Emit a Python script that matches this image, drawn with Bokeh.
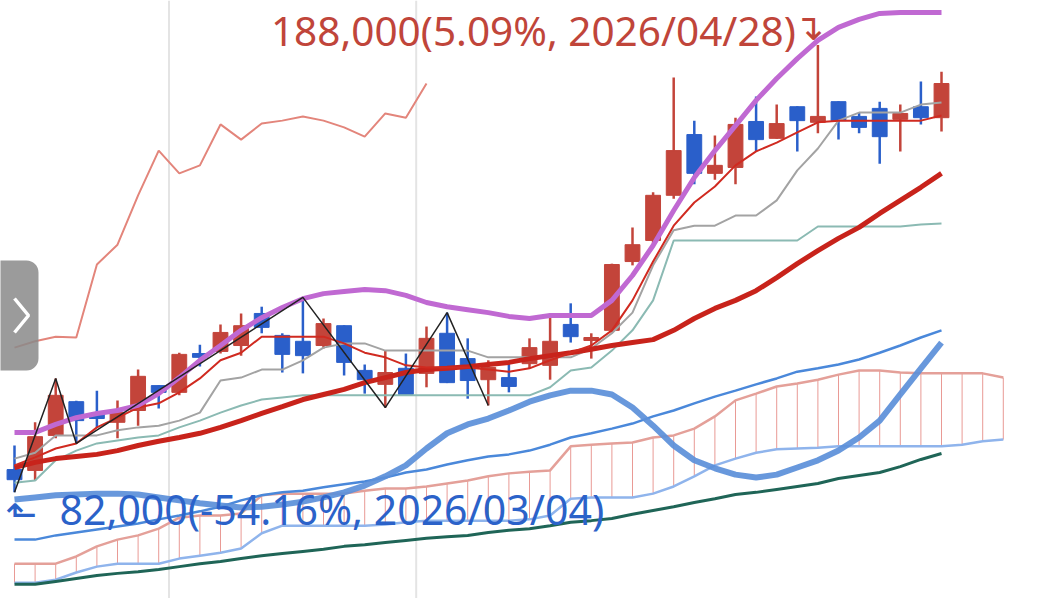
from bokeh.plotting import figure
from bokeh.models import Range1d, Span, BoxAnnotation, ColumnDataSource
from bokeh.embed import file_html
from bokeh.resources import INLINE
from bokeh.core.properties import value

# ---------------- data (won) ----------------
dates = ["03/04", "03/05", "03/06", "03/09", "03/10", "03/11", "03/12", "03/13", "03/16", "03/17",
         "03/18", "03/19", "03/20", "03/23", "03/24", "03/25", "03/26", "03/27", "03/30", "03/31",
         "04/01", "04/02", "04/03", "04/06", "04/07", "04/08", "04/09", "04/10", "04/13", "04/14",
         "04/15", "04/16", "04/17", "04/20", "04/21", "04/22", "04/23", "04/24", "04/27", "04/28",
         "04/29", "04/30", "05/04", "05/06", "05/07", "05/08"]

opens = [87400, 87200, 95500, 103500, 100700, 98600, 101400, 107300, 105700, 114900,
         115400, 116800, 124400, 119200, 117800, 116800, 121500, 110900, 107600, 111400,
         110200, 119700, 113700, 108700, 109200, 112500, 112100, 121800, 118000, 120400,
         136700, 141700, 152400, 166800, 157600, 159000, 169900, 165900, 173400, 169700,
         174600, 171100, 173000, 170400, 173400, 170800]
highs = [93100, 98600, 109000, 103700, 106100, 103800, 111100, 107400, 115100, 117000,
         121800, 124400, 126000, 119700, 128200, 123200, 121600, 112300, 115600, 114900,
         121300, 124600, 118500, 113300, 112500, 118500, 124400, 126800, 119700, 136200,
         144800, 153100, 180300, 170100, 166600, 170800, 175800, 173900, 173500, 188000,
         174700, 172000, 174600, 173900, 179400, 181700]
lows = [82000, 84800, 94800, 93600, 97400, 94800, 97800, 101900, 105000, 111800,
        114900, 114400, 119700, 110400, 110200, 116100, 109700, 105400, 102100, 104900,
        106900, 107900, 104200, 102600, 105700, 111400, 108700, 117500, 113700, 119900,
        135800, 140500, 151600, 155000, 156100, 155000, 162800, 165800, 162800, 167100,
        165600, 167100, 159900, 162800, 169200, 167500]
closes = [85000, 95200, 105000, 99000, 99500, 100900, 109500, 105700, 114700, 114000,
          119900, 121500, 121100, 114700, 114400, 122000, 112800, 108700, 110400, 105200,
          118500, 108000, 108500, 111600, 107100, 116300, 117800, 118900, 118700, 136000,
          140700, 152400, 163000, 157600, 159500, 169200, 165600, 169400, 170100, 171100,
          170100, 168500, 166300, 171800, 170800, 178900]

ma_short = [88400, 90300, 92400, 93600, 97400, 99700, 102100, 103100, 105700, 109000,
            113300, 115100, 118900, 118900, 118900, 118900, 117300, 115100, 114000, 112100,
            111600, 111600, 111600, 111100, 110600, 111400, 113300, 115100, 116800, 120400,
            127500, 136700, 145200, 150700, 154500, 159500, 162800, 164900, 167300, 169700,
            170100, 170100, 170100, 170100, 170100, 171300]
ma_long = [87900, 89100, 90000, 90500, 91000, 91900, 93100, 94100, 95000, 96000,
           97400, 99000, 100700, 102300, 104000, 105200, 106400, 108000, 109200, 110400,
           111100, 111400, 111800, 112300, 112800, 113700, 114400, 115100, 115900, 116800,
           117500, 118200, 120400, 123200, 125600, 127500, 129800, 132900, 136200, 139300,
           142200, 144800, 148100, 151200, 154300, 157600]
band_upper = [96200, 96200, 98100, 99700, 100700, 101400, 102600, 105400, 109200, 113300,
              116800, 120400, 123400, 125800, 127900, 129100, 129600, 130100, 129800, 128700,
              127000, 126000, 125300, 124600, 123700, 123200, 123900, 123900, 123900, 127500,
              133400, 140500, 148800, 156600, 163000, 168900, 174900, 180100, 184800, 189100,
              192200, 194100, 195500, 195700, 195700, 195700]
tenkan = [90000, 91400, 95500, 95500, 95500, 96700, 97400, 97800, 99000, 100900,
          108500, 109200, 111100, 111100, 113300, 116300, 117300, 117300, 115600, 115600,
          115600, 115600, 115600, 114000, 114000, 114000, 114000, 114000, 116100, 119700,
          124600, 135800, 144100, 145200, 145200, 147600, 147600, 151200, 158300, 163500,
          170100, 172000, 172000, 172000, 173900, 174400]
kijun = [84300, 84800, 89600, 91900, 93600, 94300, 95000, 95500, 97400, 99000,
         100900, 102600, 104000, 104500, 105000, 105000, 105000, 105000, 105000, 105000,
         105000, 105000, 105000, 105000, 105000, 105000, 106900, 110900, 111600, 115600,
         120400, 127500, 141700, 141700, 141700, 141700, 141700, 141700, 141700, 145000,
         145000, 145000, 145000, 145000, 145500, 145700]
blue_thin = [70800, 70800, 71800, 72500, 73200, 73900, 74600, 75600, 76500, 77500,
             78600, 80100, 81300, 82000, 82400, 83200, 83900, 84600, 85500, 86700,
             87400, 88600, 89600, 90500, 91000, 91900, 93300, 95000, 96000, 97100,
             98300, 100000, 101400, 103100, 104700, 106100, 107600, 109000, 110600, 111400,
             112300, 113500, 115100, 116800, 118700, 120400]
blue_thick = [80300, 80800, 81300, 81500, 81700, 81700, 81500, 80800, 80100, 79400,
              78900, 78400, 78600, 79100, 79800, 80800, 82000, 83600, 85800, 88400,
              92400, 96000, 98100, 99500, 101400, 103500, 105000, 106100, 106100, 105200,
              102100, 97800, 93100, 89600, 87700, 86200, 85500, 86200, 87900, 89600,
              91900, 95000, 99000, 105200, 111400, 117500]
green_line = [60200, 60200, 60900, 61600, 62300, 62800, 63200, 63700, 64400, 65100,
              65600, 66300, 67000, 67500, 68000, 68500, 69200, 69600, 70100, 70600,
              71100, 71500, 71800, 72500, 73000, 73400, 74100, 74900, 75300, 75800,
              76800, 77700, 78600, 79600, 80500, 81500, 82000, 82700, 83400, 84100,
              85300, 86000, 86700, 88100, 89800, 91200]
# cloud (extends 3 bars past the last candle)
span_a = [65100, 65100, 65100, 66800, 69200, 70800, 71800, 73400, 76000, 76500,
          76500, 77000, 81300, 81700, 81700, 81700, 81700, 82400, 82900, 82900,
          83400, 84100, 84800, 85800, 86500, 86900, 87200, 92900, 93300, 93600,
          93800, 95000, 95500, 97100, 100000, 103800, 105400, 107100, 107800, 108700,
          109900, 110900, 110900, 110400, 110200, 110200, 110200, 110200, 109200]
span_b = [60600, 60600, 61300, 63000, 64400, 65100, 65100, 65100, 66300, 67000,
          67700, 68700, 72300, 74100, 74100, 74100, 74100, 74100, 74400, 74900,
          75300, 75300, 75300, 75300, 75300, 75600, 76500, 80500, 80800, 80800,
          80800, 81700, 83400, 85800, 88400, 90000, 91400, 92200, 92400, 92600,
          92900, 92900, 92900, 92900, 92900, 92900, 93300, 94100, 94500]

zigzag_bars = [1, 3, 4, 15, 19, 22, 24]
zigzag_kind = ["low", "high", "low", "high", "low", "high", "low"]
grid_bars = [8.5, 20.5]
lag_shift = 25

high_label = "188,000(5.09%, 2026/04/28)"
low_label = "82,000(-54.16%, 2026/03/04)"

# ---------------- layout helpers (screen calibration) ----------------
BAR0_PX, BAR_PX = 14.0, 20.6
PRICE_AT_0, PRICE_PER_PX = 198571.0, 237.0


def px2x(px):
    return 1 + (px - BAR0_PX) / BAR_PX


def py2y(py):
    return PRICE_AT_0 - PRICE_PER_PX * py


W, H = 1029, 598
p = figure(width=W, height=H, output_backend="svg", toolbar_location=None,
           x_range=Range1d(px2x(0), px2x(W)), y_range=Range1d(py2y(H), py2y(0)),
           x_axis_type=None, y_axis_type=None, min_border=0)
p.grid.visible = False
p.outline_line_color = None
p.background_fill_color = "white"
p.border_fill_color = "white"

for g in grid_bars:
    p.add_layout(Span(location=g, dimension="height", line_color="#e4e4e4", line_width=2,
                      level="underlay"))

idx = list(range(1, len(closes) + 1))
cidx = list(range(1, len(span_a) + 1))

# cloud
p.segment(x0=cidx, y0=span_b, x1=cidx, y1=span_a, line_color="#e3817a", line_width=1, line_alpha=0.8)
p.line(cidx, span_a, line_color="#e4a099", line_width=2.5)
p.line(cidx, span_b, line_color="#8fb4ec", line_width=2.5)

p.line(idx, green_line, line_color="#1f6557", line_width=3)
p.line(idx, blue_thin, line_color="#4a88da", line_width=2.5)
p.line(idx, blue_thick, line_color="#5b8fd9", line_width=6, line_alpha=0.92)

# lagging span (close shifted back)
p.line(idx[:len(idx) - lag_shift], closes[lag_shift:], line_color="#e3857b", line_width=2)

# candles
up = [c >= o for o, c in zip(opens, closes)]
colors = ["#c3443a" if u else "#2a5fca" for u in up]
src = ColumnDataSource(dict(x=idx, o=opens, h=highs, l=lows, c=closes,
                            top=[max(o, c) for o, c in zip(opens, closes)],
                            bot=[min(o, c) for o, c in zip(opens, closes)],
                            col=colors))
p.segment(x0="x", y0="l", x1="x", y1="h", line_color="col", line_width=2.5, source=src)
p.vbar(x="x", width=0.72, top="top", bottom="bot", fill_color="col", line_color="col",
       line_width=1, source=src)

# moving-average style lines
p.line(idx, kijun, line_color="#8bbab3", line_width=2)
p.line(idx, tenkan, line_color="#a3a3a3", line_width=2)
p.line(idx, ma_long, line_color="#c8231b", line_width=5)
p.line(idx, ma_short, line_color="#d02a20", line_width=2)
p.line(idx, band_upper, line_color="#c069d2", line_width=5)

# zigzag
zz_y = [lows[b - 1] if k == "low" else highs[b - 1] for b, k in zip(zigzag_bars, zigzag_kind)]
p.line(zigzag_bars, zz_y, line_color="#222222", line_width=1.5)

# high / low labels
hi_bar = highs.index(max(highs)) + 1
lo_bar = lows.index(min(lows)) + 1
p.text(x=[hi_bar], y=[max(highs)], text=[high_label], text_font=value("Noto Sans"),
       text_font_size="40.5px", text_color="#c0453a", text_align="right",
       text_baseline="alphabetic", x_offset=-22, y_offset=-15)
p.text(x=[hi_bar], y=[max(highs)], text=["\u21b4"], text_font=value("DejaVu Sans"),
       text_font_size="36px", text_color="#c0453a", text_align="left",
       text_baseline="alphabetic", x_offset=-24, y_offset=-18)
p.text(x=[lo_bar], y=[min(lows)], text=[low_label], text_font=value("Noto Sans"),
       text_font_size="41px", text_color="#2b62c9", text_align="left",
       text_baseline="alphabetic", x_offset=45, y_offset=17)
p.text(x=[lo_bar], y=[min(lows)], text=["\u2b11"], text_font=value("DejaVu Sans"),
       text_font_size="38px", text_color="#2b62c9", text_align="left",
       text_baseline="alphabetic", x_offset=-9, y_offset=22)

# side tab (UI element)
tab_kw = dict(left=px2x(-20), right=px2x(38), top=py2y(260), bottom=py2y(370),
              fill_color="#8a8a8a", fill_alpha=0.85, line_color=None)
try:
    tab = BoxAnnotation(border_radius=12, **tab_kw)
except Exception:
    tab = BoxAnnotation(**tab_kw)
p.add_layout(tab)
p.line([px2x(14), px2x(28), px2x(14)], [py2y(298), py2y(315), py2y(332)],
       line_color="white", line_width=3.5, level="overlay")

open("out.html", "w").write(file_html(p, INLINE))
